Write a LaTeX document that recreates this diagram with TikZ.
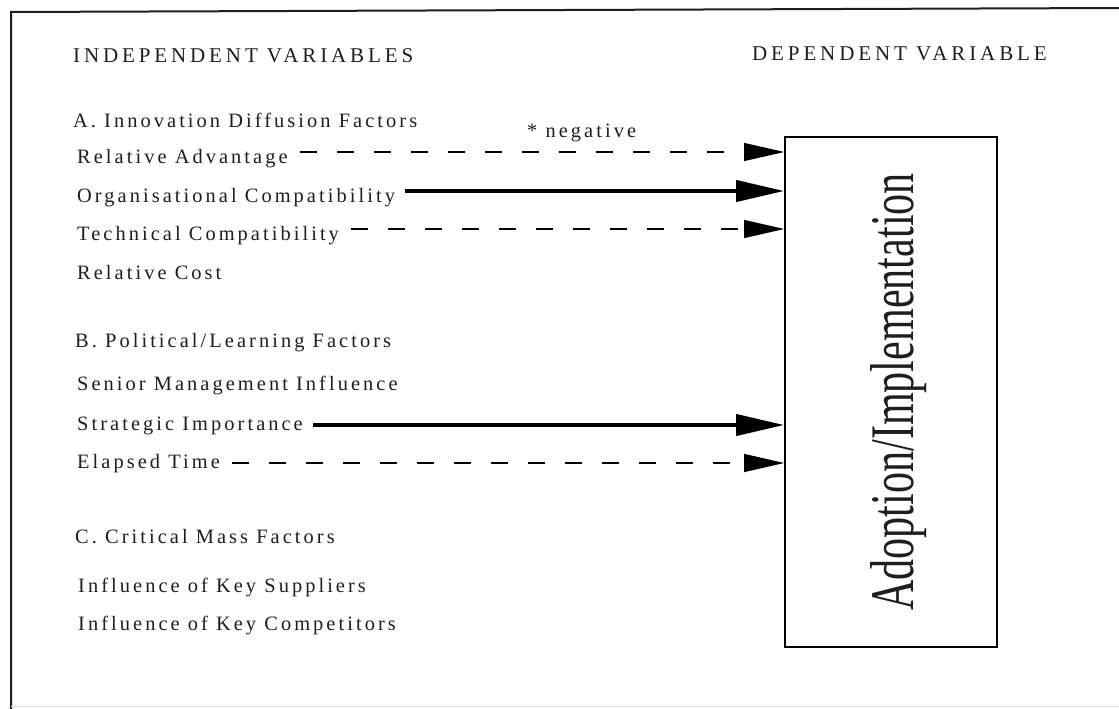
\documentclass[tikz,border=0pt]{standalone}
\usepackage{fontspec}
\setmainfont{Liberation Serif}
\newfontfamily\lblfont[LetterSpace=15]{Liberation Serif}
\newfontfamily\capsfont[LetterSpace=18.5]{Liberation Serif}
\newfontfamily\boxfont{Liberation Serif}
\usetikzlibrary{arrows.meta}
\definecolor{ink}{HTML}{1E1E1E}
\tikzset{
  lbl/.style={anchor=base west, inner sep=0pt, text=ink, font=\lblfont\fontsize{20.4}{24}\selectfont},
  hdr/.style={anchor=base west, inner sep=0pt, text=ink, font=\capsfont\fontsize{21}{25}\selectfont},
  weakarrow/.style={line width=1.1pt, dash pattern=on 17pt off 20pt, shorten <=12pt,
    -{Triangle[length=40pt,width=18pt]}},
  strongarrow/.style={line width=4pt, shorten <=10pt,
    -{Triangle[length=48pt,width=21pt]}},
  outcome/.style={draw, line width=1.8pt, minimum width=212pt, minimum height=510pt, inner sep=0pt}
}
\begin{document}
\begin{tikzpicture}[x=1pt,y=-1pt]
  \useasboundingbox (0,0) rectangle (1119,709);
  \fill[white] (0,0) rectangle (1119,709);

  % outer frame
  \draw[line width=2pt, ink] (11,709) -- (11,12) -- (1119,8);
  \draw[line width=1pt, black!12] (11,706) -- (1119,706);

  % column headings
  \node[hdr] (indep) at (73,63) {INDEPENDENT VARIABLES};
  \node[hdr] (dep) at (752,60) {DEPENDENT VARIABLE};

  % group A
  \node[lbl] (grpA) at (73,127) {A. Innovation Diffusion Factors};
  \node[lbl] (ra)   at (77,163) {Relative Advantage};
  \node[lbl] (oc)   at (77,202) {Organisational Compatibility};
  \node[lbl] (tc)   at (77,240) {Technical Compatibility};
  \node[lbl] (rc)   at (77,279) {Relative Cost};

  % group B
  \node[lbl] (grpB) at (75,347) {B. Political/Learning Factors};
  \node[lbl] (sm)   at (77,390) {Senior Management Influence};
  \node[lbl] (si)   at (77,430) {Strategic Importance};
  \node[lbl] (et)   at (77,468) {Elapsed Time};

  % group C
  \node[lbl] (grpC) at (75,543) {C. Critical Mass Factors};
  \node[lbl] (ks)   at (78,592) {Influence of Key Suppliers};
  \node[lbl] (kc)   at (78,630) {Influence of Key Competitors};

  % outcome box
  \node[outcome] (box) at (891,392) {};
  \node[rotate=90, anchor=base, inner sep=0pt, text=ink,
        font=\boxfont\fontsize{62}{70}\selectfont] (boxlabel) at (913,392)
        {\scalebox{0.68}[1]{Adoption/Implementation}};

  % arrow heights
  \coordinate (yra) at (0,152);
  \coordinate (yoc) at (0,191);
  \coordinate (ytc) at (0,229);
  \coordinate (ysi) at (0,425);
  \coordinate (yet) at (0,463);

  \draw[weakarrow]   (ra.east |- yra) -- (box.west |- yra);
  \draw[strongarrow] (oc.east |- yoc) -- (box.west |- yoc);
  \draw[weakarrow]   (tc.east |- ytc) -- (box.west |- ytc);
  \draw[strongarrow] (si.east |- ysi) -- (box.west |- ysi);
  \draw[weakarrow]   (et.east |- yet) -- (box.west |- yet);

  \node[lbl] (neg) at (527,137) {* negative};
\end{tikzpicture}
\end{document}
